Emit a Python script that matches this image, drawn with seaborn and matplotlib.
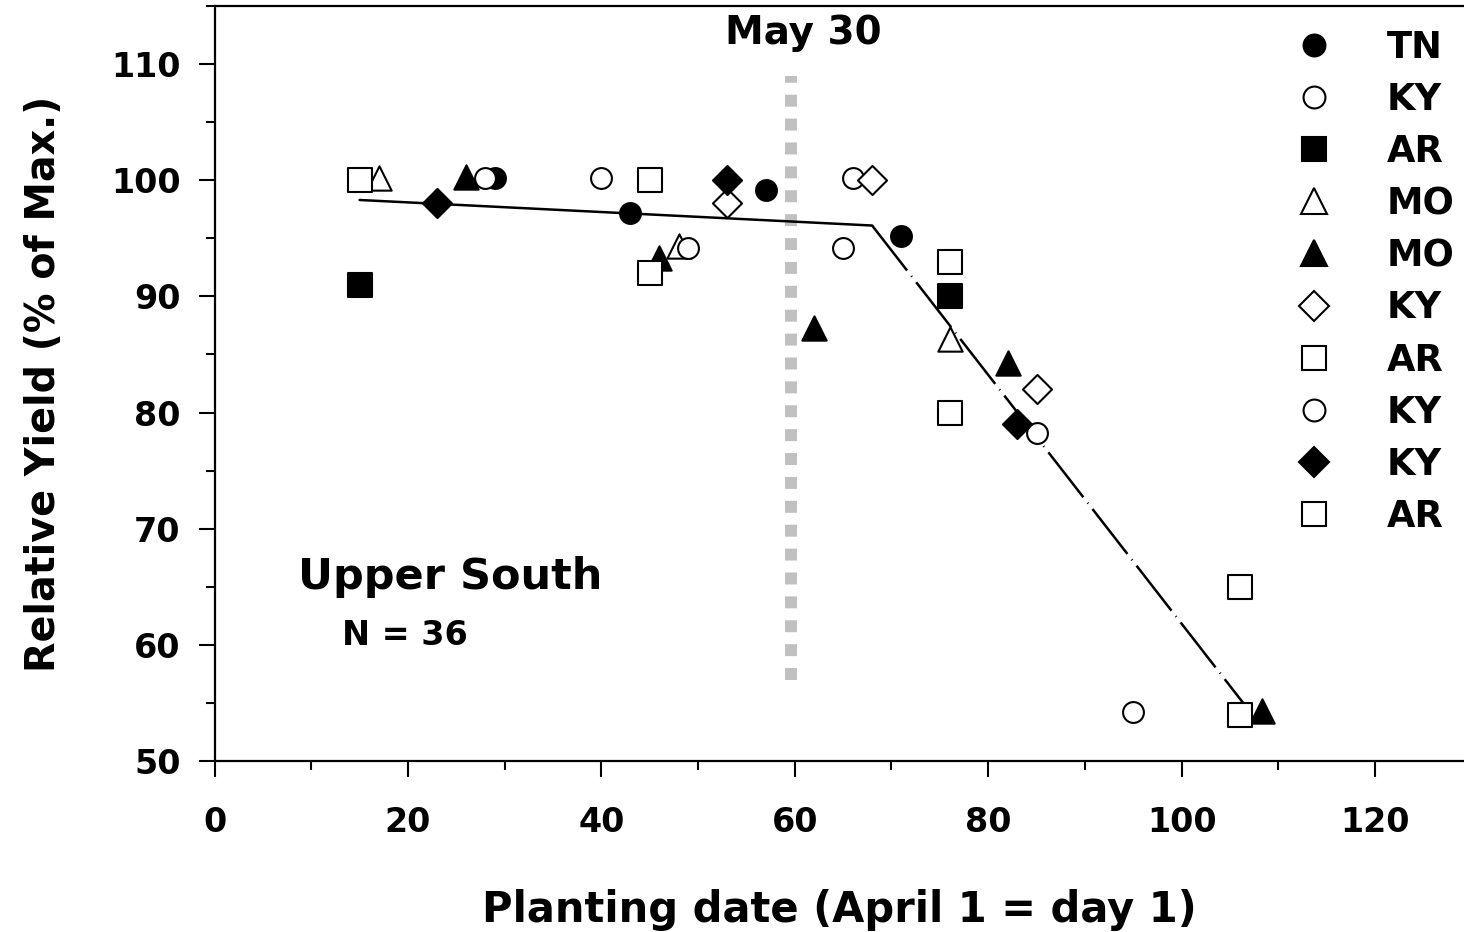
import matplotlib
matplotlib.use("Agg")
import matplotlib.pyplot as plt
import seaborn as sns
import pandas as pd
from matplotlib.lines import Line2D
from matplotlib.ticker import MultipleLocator

# ---------------- data ----------------
labels = ["TN", "KY", "AR", "MO", "MO", "KY", "AR", "KY", "KY", "AR"]
markers = ["o", "o", "s", "^", "^", "D", "s", "o", "D", "s"]
filled = [True, False, True, False, True, False, False, False, True, False]

x_tn = [29, 43, 57, 71]
y_tn = [100.2, 97.2, 99.2, 95.2]
x_ky1 = [28, 66, 85]
y_ky1 = [100.2, 100.2, 78.2]
x_ar1 = [15, 76]
y_ar1 = [91, 90]
x_mo1 = [17, 48, 76]
y_mo1 = [100.2, 94.3, 86.3]
x_mo2 = [26, 46, 62, 82, 108.3]
y_mo2 = [100.3, 93.3, 87.3, 84.3, 54.3]
x_ky2 = [53, 68, 85]
y_ky2 = [98, 100, 82]
x_ar2 = [15, 45, 76, 106]
y_ar2 = [100, 92, 80, 54]
x_ky3 = [40, 49, 65, 95]
y_ky3 = [100.2, 94.2, 94.2, 54.2]
x_ky4 = [23, 53, 83]
y_ky4 = [98, 100, 79]
x_ar3 = [45, 76, 106]
y_ar3 = [100, 93, 65]

series_x = [x_tn, x_ky1, x_ar1, x_mo1, x_mo2, x_ky2, x_ar2, x_ky3, x_ky4, x_ar3]
series_y = [y_tn, y_ky1, y_ar1, y_mo1, y_mo2, y_ky2, y_ar2, y_ky3, y_ky4, y_ar3]

fit1_x = [15, 68]
fit1_y = [98.3, 96.1]
fit2_x = [68, 107.3]
fit2_y = [96.1, 54.0]

may30_x = [59.6, 59.6]
may30_y = [57, 109]

x_ticks = [0, 20, 40, 60, 80, 100, 120]
y_ticks = [50, 60, 70, 80, 90, 100, 110]

# ---------------- style ----------------
sns.set_theme(style="ticks")
plt.rcParams["font.family"] = ["DejaVu Sans"]
plt.rcParams["font.weight"] = "bold"
plt.rcParams["text.color"] = "black"
plt.rcParams["axes.labelcolor"] = "black"
plt.rcParams["xtick.color"] = "black"
plt.rcParams["ytick.color"] = "black"
plt.rcParams["lines.scale_dashes"] = False

W, H, DPI = 1464, 932, 100
fig = plt.figure(figsize=(W / DPI, H / DPI), dpi=DPI)
ax = fig.add_axes([214.5 / W, (H - 761) / H, 1 - 214.5 / W, (761 - 6) / H])

msize = {"o": 15.0, "s": 16.8, "^": 17.5, "D": 14.8}
EW = 1.5

# vertical May 30 line
ax.plot(may30_x, may30_y, color="#c0c0c0", lw=8.6, linestyle=(0, (8.6, 8.6)),
        solid_capstyle="butt", dash_capstyle="butt", zorder=1)

# fitted lines
sns.lineplot(x=fit1_x, y=fit1_y, ax=ax, color="black", lw=1.8, zorder=2,
             estimator=None, sort=False)
sns.lineplot(x=fit2_x, y=fit2_y, ax=ax, color="black", lw=1.8, zorder=2,
             estimator=None, sort=False)
ax.lines[-1].set_dashes([41, 5, 0.7, 5])

# points
for xs, ys, m, f in zip(series_x, series_y, markers, filled):
    df = pd.DataFrame({"x": xs, "y": ys})
    sns.scatterplot(data=df, x="x", y="y", ax=ax, marker=m, s=msize[m] ** 2,
                    facecolor="black" if f else "white", edgecolor="black",
                    linewidth=EW, zorder=3, legend=False)

# axes
ax.set_xlim(0, 129.2)
ax.set_ylim(50, 115)
ax.set_xticks(x_ticks)
ax.set_yticks(y_ticks)
ax.xaxis.set_minor_locator(MultipleLocator(10))
ax.yaxis.set_minor_locator(MultipleLocator(5))
ax.tick_params(which="major", length=11.5, width=1.5, labelsize=24, colors="black")
ax.tick_params(which="minor", length=6.5, width=1.5, colors="black")
ax.tick_params(axis="x", which="major", pad=21)
ax.tick_params(axis="y", which="major", pad=13)
for lab in ax.get_xticklabels() + ax.get_yticklabels():
    lab.set_fontweight("bold")
for s in ["left", "bottom", "top"]:
    ax.spines[s].set_visible(True)
    ax.spines[s].set_linewidth(1.6)
    ax.spines[s].set_color("black")
ax.spines["right"].set_visible(False)

ax.set_xlabel("Planting date (April 1 = day 1)", fontsize=30, fontweight="bold", labelpad=36)
ax.set_ylabel("Relative Yield (% of Max.)", fontsize=28.5, fontweight="bold", labelpad=34)

ax.text(24.4, 65.85, "Upper South", fontsize=31, fontweight="bold", ha="center", va="center")
ax.text(19.7, 60.8, "N = 36", fontsize=24, fontweight="bold", ha="center", va="center")
ax.text(60.85, 112.7, "May 30", fontsize=28, fontweight="bold", ha="center", va="center")

# legend
handles = [Line2D([], [], marker=m, ms=msize[m] * 1.05, mfc="black" if f else "white",
                  mec="black", mew=EW, ls="none")
           for m, f in zip(markers, filled)]
leg = ax.legend(handles, labels, loc="upper left",
                bbox_to_anchor=(1277 / W, 1 - 29 / H), bbox_transform=fig.transFigure,
                frameon=False, prop={"size": 26.5, "weight": "bold"},
                handlelength=2.0, handletextpad=0.99, labelspacing=0.41, borderpad=0,
                borderaxespad=0)

fig.savefig("out.png", dpi=DPI, facecolor="white")
